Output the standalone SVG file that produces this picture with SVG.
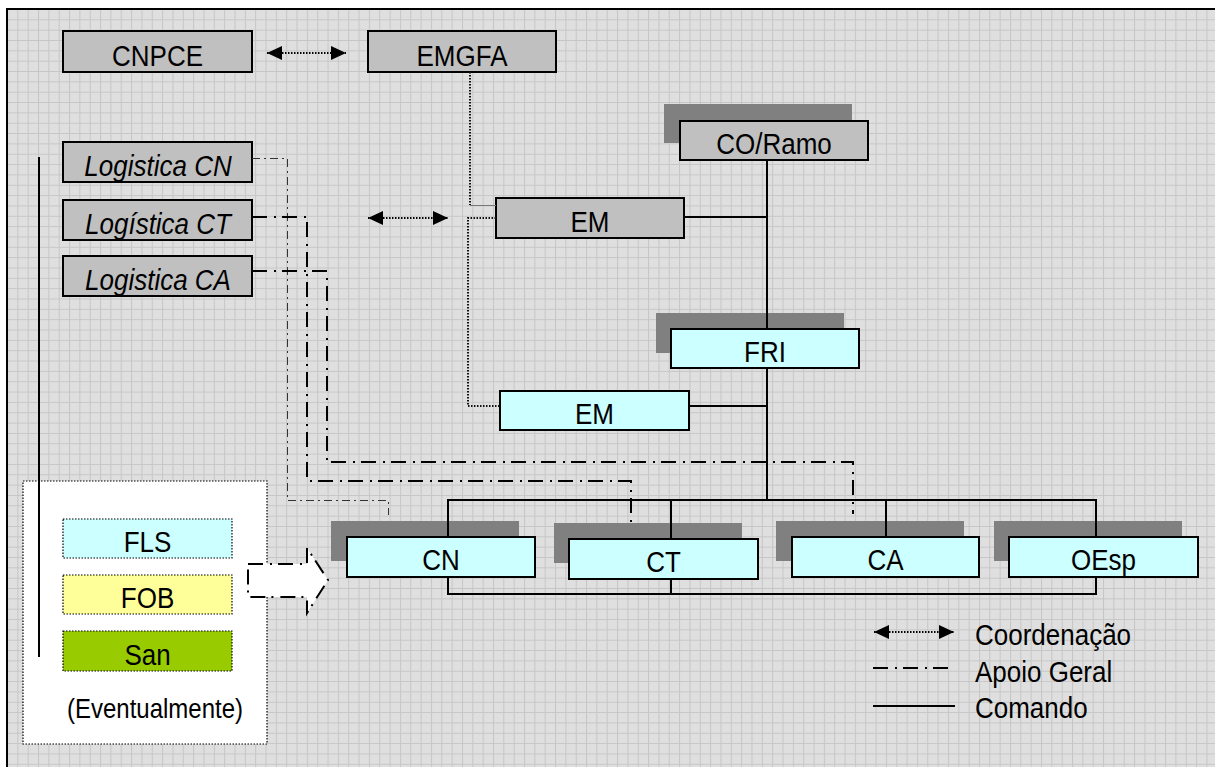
<svg xmlns="http://www.w3.org/2000/svg" width="1215" height="767" viewBox="0 0 1215 767">
<defs>
<pattern id="grid" x="7" y="9" width="10.34" height="10.34" patternUnits="userSpaceOnUse">
<rect width="10.34" height="10.34" fill="#dfdfdf"/>
<path d="M0.5,0 V10.34 M0,0.5 H10.34" stroke="#c6c6c6" stroke-width="1" fill="none"/>
</pattern>
<marker id="ah" viewBox="0 0 15 14" refX="15" refY="7" markerWidth="15" markerHeight="14" markerUnits="userSpaceOnUse" orient="auto-start-reverse">
<path d="M0,0 L15,7 L0,14 Z" fill="#000"/>
</marker>
<style>
.t{font-family:"Liberation Sans",Arial,"DejaVu Sans",sans-serif;font-size:26px;fill:#000;text-anchor:middle}
.ti{font-style:italic}
.tl{text-anchor:start}
.grey{fill:#c0c0c0;stroke:#000;stroke-width:2}
.cyan{fill:#ccffff;stroke:#000;stroke-width:2}
.shadow{fill:#808080}
.cmd{fill:none;stroke:#000;stroke-width:2}
.ag{fill:none;stroke:#000;stroke-width:2;stroke-dasharray:15 7 2 6}
.agt{fill:none;stroke:#333;stroke-width:1;stroke-dasharray:8 4 2 4}
.dot{fill:none;stroke:#111;stroke-width:2;stroke-dasharray:1.5 1.5}
.coord{fill:none;stroke:#000;stroke-width:2;stroke-dasharray:1.5 1.5;marker-start:url(#ah);marker-end:url(#ah)}
.dotbox{stroke:#000;stroke-width:1.2;stroke-dasharray:1.5 1.5}
</style>
</defs>
<rect width="1215" height="767" fill="#fff"/>
<rect x="7" y="9" width="1208" height="758" fill="url(#grid)"/>
<path d="M7,767 V9 H1215" fill="none" stroke="#000" stroke-width="2"/>

<g id="n-cnpce">
<rect class="grey" x="63" y="31" width="189" height="41"/>
<text class="t" transform="translate(157.5,66) scale(1,1.12)">CNPCE</text>
</g>
<g id="n-emgfa">
<rect class="grey" x="368" y="31" width="188" height="41"/>
<text class="t" transform="translate(462,66) scale(1,1.12)">EMGFA</text>
</g>
<g id="n-log-cn">
<rect class="grey" x="63" y="142" width="189" height="40"/>
<text class="t ti" transform="translate(158,176) scale(1,1.12)">Logistica CN</text>
</g>
<g id="n-log-ct">
<rect class="grey" x="63" y="200" width="189" height="40"/>
<text class="t ti" transform="translate(158,234) scale(1,1.12)">Logística CT</text>
</g>
<g id="n-log-ca">
<rect class="grey" x="63" y="256" width="189" height="40"/>
<text class="t ti" transform="translate(158,290) scale(1,1.12)">Logistica CA</text>
</g>
<g id="n-coramo">
<rect class="shadow" x="664" y="104" width="188" height="39"/>
<rect class="grey" x="680" y="121" width="188" height="39"/>
<text class="t" transform="translate(774,154) scale(1,1.12)">CO/Ramo</text>
</g>
<g id="n-em1">
<rect class="grey" x="496" y="198" width="188" height="40"/>
<text class="t" transform="translate(590,232) scale(1,1.12)">EM</text>
</g>
<g id="n-fri">
<rect class="shadow" x="656" y="313" width="188" height="40"/>
<rect class="cyan" x="671" y="329" width="188" height="39"/>
<text class="t" transform="translate(765,362) scale(1,1.12)">FRI</text>
</g>
<g id="n-em2">
<rect class="cyan" x="500" y="391" width="189" height="39"/>
<text class="t" transform="translate(594.5,424) scale(1,1.12)">EM</text>
</g>
<g id="n-cn">
<rect class="shadow" x="331" y="521" width="188" height="40"/>
<rect class="cyan" x="347" y="537" width="188" height="40"/>
<text class="t" transform="translate(441,570) scale(1,1.12)">CN</text>
</g>
<g id="n-ct">
<rect class="shadow" x="554" y="523" width="188" height="40"/>
<rect class="cyan" x="569" y="539" width="189" height="40"/>
<text class="t" transform="translate(663.5,572) scale(1,1.12)">CT</text>
</g>
<g id="n-ca">
<rect class="shadow" x="776" y="521" width="188" height="40"/>
<rect class="cyan" x="792" y="537" width="187" height="40"/>
<text class="t" transform="translate(885.5,570) scale(1,1.12)">CA</text>
</g>
<g id="n-oesp">
<rect class="shadow" x="994" y="521" width="188" height="40"/>
<rect class="cyan" x="1009" y="537" width="189" height="40"/>
<text class="t" transform="translate(1103.5,570) scale(1,1.12)">OEsp</text>
</g>

<g id="n-eventual">
<rect x="23" y="481" width="244" height="263" fill="#fff" class="dotbox"/>
<rect x="63" y="519" width="169" height="39" fill="#ccffff" class="dotbox"/>
<text class="t" transform="translate(147.5,552) scale(1,1.12)">FLS</text>
<rect x="63" y="575" width="169" height="39" fill="#ffff99" class="dotbox"/>
<text class="t" transform="translate(147.5,608) scale(1,1.12)">FOB</text>
<rect x="63" y="631" width="169" height="40" fill="#99cc00" class="dotbox"/>
<text class="t" transform="translate(147.5,665) scale(1,1.12)">San</text>
<text class="t" style="font-size:24px" transform="translate(155,718) scale(1,1.12)">(Eventualmente)</text>
</g>
<g id="n-blockarrow">
<polygon points="248,564 307,564 307,548 328,580 307,613 307,597 248,597" fill="#fff" stroke="#000" stroke-width="2" stroke-dasharray="15 7 2 6"/>
</g>

<g id="connectors">
<line class="cmd" x1="39" y1="157" x2="39" y2="657"/>
<line class="coord" x1="267" y1="53" x2="346" y2="53"/>
<line class="coord" x1="368" y1="218" x2="448" y2="218"/>
<path class="dot" d="M470,72 V205"/>
<path d="M470,205.5 H496" fill="none" stroke="#777" stroke-width="1"/>
<path class="dot" d="M496,218 H468 V406 H500"/>
<path class="agt" d="M252,158.5 H287.5 V500.5 H388.5 V515"/>
<path class="ag" d="M252,217 H307 V481 H631 V522"/>
<path class="ag" d="M252,271 H327 V462 H853 V514"/>
<path class="cmd" d="M767,160 V329 M767,368 V500 M684,217 H767 M689,406 H767"/>
<path class="cmd" d="M448,537 V500 H1096 V537 M671,500 V539 M886,500 V537"/>
<path class="cmd" d="M448,577 V594 H1096 V577 M671,579 V594"/>
</g>

<g id="legend">
<line class="coord" x1="874" y1="632" x2="954" y2="632"/>
<text class="t tl" transform="translate(975,645) scale(1,1.12)">Coordenação</text>
<line class="ag" x1="873" y1="668" x2="948" y2="668"/>
<text class="t tl" transform="translate(975,682) scale(1,1.12)">Apoio Geral</text>
<line class="cmd" x1="873" y1="706" x2="955" y2="706"/>
<text class="t tl" transform="translate(975,718) scale(1,1.12)">Comando</text>
</g>
</svg>
